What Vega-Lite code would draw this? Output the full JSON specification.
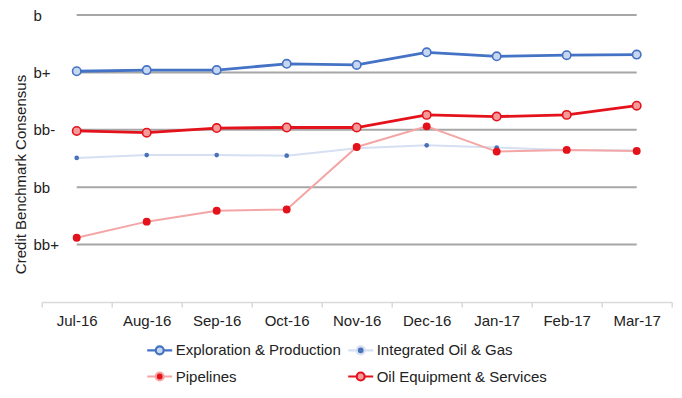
{
  "$schema": "https://vega.github.io/schema/vega-lite/v6.json",
  "width": 630,
  "height": 287,
  "autosize": {"type": "none"},
  "padding": {"left": 41.7, "top": 15, "right": 10.3, "bottom": 96},
  "config": {"font": "Liberation Sans", "view": {"stroke": null}},
  "datasets": {
    "ratings": [
      {"month": "Jul-16", "series": "Exploration & Production", "value": 4.02},
      {"month": "Aug-16", "series": "Exploration & Production", "value": 4.04},
      {"month": "Sep-16", "series": "Exploration & Production", "value": 4.04},
      {"month": "Oct-16", "series": "Exploration & Production", "value": 4.15},
      {"month": "Nov-16", "series": "Exploration & Production", "value": 4.13},
      {"month": "Dec-16", "series": "Exploration & Production", "value": 4.35},
      {"month": "Jan-17", "series": "Exploration & Production", "value": 4.28},
      {"month": "Feb-17", "series": "Exploration & Production", "value": 4.30},
      {"month": "Mar-17", "series": "Exploration & Production", "value": 4.31},
      {"month": "Jul-16", "series": "Integrated Oil & Gas", "value": 2.51},
      {"month": "Aug-16", "series": "Integrated Oil & Gas", "value": 2.56},
      {"month": "Sep-16", "series": "Integrated Oil & Gas", "value": 2.56},
      {"month": "Oct-16", "series": "Integrated Oil & Gas", "value": 2.55},
      {"month": "Nov-16", "series": "Integrated Oil & Gas", "value": 2.68},
      {"month": "Dec-16", "series": "Integrated Oil & Gas", "value": 2.73},
      {"month": "Jan-17", "series": "Integrated Oil & Gas", "value": 2.69},
      {"month": "Feb-17", "series": "Integrated Oil & Gas", "value": 2.65},
      {"month": "Mar-17", "series": "Integrated Oil & Gas", "value": 2.64},
      {"month": "Jul-16", "series": "Pipelines", "value": 1.12},
      {"month": "Aug-16", "series": "Pipelines", "value": 1.40},
      {"month": "Sep-16", "series": "Pipelines", "value": 1.59},
      {"month": "Oct-16", "series": "Pipelines", "value": 1.61},
      {"month": "Nov-16", "series": "Pipelines", "value": 2.70},
      {"month": "Dec-16", "series": "Pipelines", "value": 3.06},
      {"month": "Jan-17", "series": "Pipelines", "value": 2.62},
      {"month": "Feb-17", "series": "Pipelines", "value": 2.65},
      {"month": "Mar-17", "series": "Pipelines", "value": 2.63},
      {"month": "Jul-16", "series": "Oil Equipment & Services", "value": 2.98},
      {"month": "Aug-16", "series": "Oil Equipment & Services", "value": 2.95},
      {"month": "Sep-16", "series": "Oil Equipment & Services", "value": 3.03},
      {"month": "Oct-16", "series": "Oil Equipment & Services", "value": 3.04},
      {"month": "Nov-16", "series": "Oil Equipment & Services", "value": 3.04},
      {"month": "Dec-16", "series": "Oil Equipment & Services", "value": 3.26},
      {"month": "Jan-17", "series": "Oil Equipment & Services", "value": 3.23},
      {"month": "Feb-17", "series": "Oil Equipment & Services", "value": 3.26},
      {"month": "Mar-17", "series": "Oil Equipment & Services", "value": 3.42}
    ],
    "grid": [
      {"month": "Jul-16", "level": 1, "value": 1}, {"month": "Mar-17", "level": 1, "value": 1},
      {"month": "Jul-16", "level": 2, "value": 2}, {"month": "Mar-17", "level": 2, "value": 2},
      {"month": "Jul-16", "level": 3, "value": 3}, {"month": "Mar-17", "level": 3, "value": 3},
      {"month": "Jul-16", "level": 4, "value": 4}, {"month": "Mar-17", "level": 4, "value": 4},
      {"month": "Jul-16", "level": 5, "value": 5}, {"month": "Mar-17", "level": 5, "value": 5}
    ]
  },
  "encoding": {
    "x": {
      "field": "month", "type": "ordinal",
      "scale": {"type": "band", "paddingInner": 0, "paddingOuter": 0,
        "domain": ["Jul-16", "Aug-16", "Sep-16", "Oct-16", "Nov-16", "Dec-16", "Jan-17", "Feb-17", "Mar-17"]},
      "axis": {"title": null, "labelAngle": 0, "tickBand": "extent", "domainColor": "#d9d9d9", "domainWidth": 1.5,
        "tickColor": "#d9d9d9", "tickWidth": 1.5, "tickSize": 5, "labelPadding": 6, "labelFontSize": 15, "labelColor": "#222222", "grid": false}
    },
    "y": {
      "field": "value", "type": "quantitative",
      "scale": {"domain": [0, 5], "nice": false, "zero": true},
      "axis": {"title": "Credit Benchmark Consensus", "values": [1, 2, 3, 4, 5],
        "labelExpr": "['', 'bb+', 'bb', 'bb-', 'b+', 'b'][datum.value]",
        "domain": false, "ticks": false, "tickSize": 0, "grid": false,
        "labelAlign": "left", "labelPadding": 8.7, "labelFontSize": 15, "labelColor": "#222222",
        "titleFontSize": 15, "titleFontWeight": "normal", "titleColor": "#222222",
        "titleX": -21, "titleY": 159, "titleBaseline": "middle"}
    }
  },
  "layer": [
    {
      "data": {"name": "grid"},
      "mark": {"type": "line", "color": "#a6a6a6", "strokeWidth": 2},
      "encoding": {"detail": {"field": "level"}}
    },
    {
      "data": {"name": "ratings"},
      "mark": {"type": "line"},
      "encoding": {
        "stroke": {"field": "series", "type": "nominal",
          "scale": {"domain": ["Exploration & Production", "Integrated Oil & Gas", "Pipelines", "Oil Equipment & Services"],
            "range": ["#4472c4", "#d6e0f2", "#f4a6a6", "#e3121b"]},
          "legend": {"title": null, "orient": "none", "legendX": 104, "legendY": 321, "columns": 2, "direction": "horizontal",
            "symbolType": "M-1,0H-0.32M0.32,0H1M-0.32,0A0.32,0.32,0,1,1,0.32,0A0.32,0.32,0,1,1,-0.32,0Z",
            "symbolSize": 625, "symbolStrokeWidth": 2.2, "labelOffset": 2, "labelFontSize": 15, "labelColor": "#222222",
            "columnPadding": 2, "rowPadding": 3.5, "labelLimit": 400}},
        "strokeWidth": {"condition": [{"test": "datum.series === 'Integrated Oil & Gas' || datum.series === 'Pipelines'", "value": 2}], "value": 2.8}
      }
    },
    {
      "data": {"name": "ratings"},
      "mark": {"type": "point", "filled": true, "opacity": 1},
      "encoding": {
        "fill": {"field": "series", "type": "nominal",
          "scale": {"domain": ["Exploration & Production", "Integrated Oil & Gas", "Pipelines", "Oil Equipment & Services"],
            "range": ["#c8d7f0", "#4a72b8", "#e3121b", "#f49a9a"]},
          "legend": {"title": null, "orient": "none", "legendX": 104, "legendY": 321, "columns": 2, "direction": "horizontal",
            "symbolType": "M-1,0H-0.32M0.32,0H1M-0.32,0A0.32,0.32,0,1,1,0.32,0A0.32,0.32,0,1,1,-0.32,0Z",
            "symbolSize": 625, "symbolStrokeWidth": 2.2, "labelOffset": 2, "labelFontSize": 15, "labelColor": "#222222",
            "columnPadding": 2, "rowPadding": 3.5, "labelLimit": 400}},
        "stroke": {"condition": [{"test": "datum.series === 'Exploration & Production' || datum.series === 'Integrated Oil & Gas'", "value": "#4472c4"}], "value": "#e3121b"},
        "strokeWidth": {"condition": [{"test": "datum.series === 'Integrated Oil & Gas'", "value": 0}], "value": 1.6},
        "size": {"condition": [
          {"test": "datum.series === 'Integrated Oil & Gas'", "value": 22},
          {"test": "datum.series === 'Pipelines'", "value": 40}], "value": 70}
      }
    }
  ]
}
